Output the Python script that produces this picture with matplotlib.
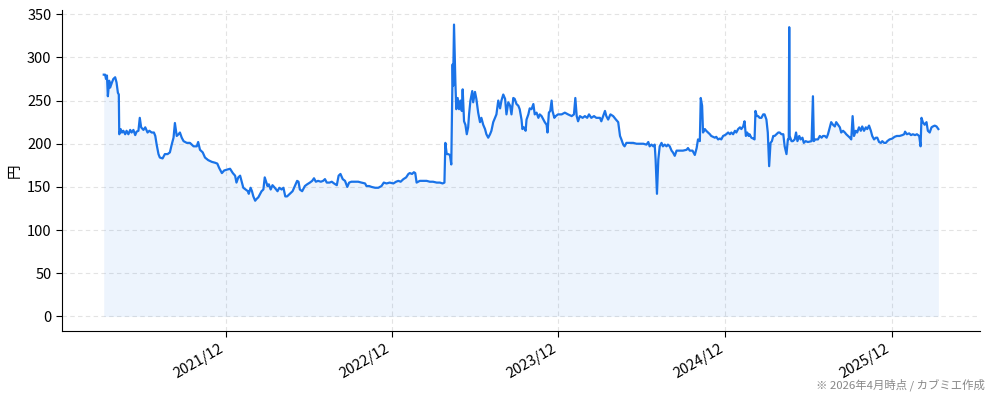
import pandas as pd
import matplotlib
matplotlib.use("Agg")
import matplotlib.pyplot as plt
import matplotlib.dates as mdates

plt.rcParams['font.family'] = ['Noto Sans CJK JP', 'DejaVu Sans']

# 日足終値（開始日からの経過日数, 円）
start = "2021-04-08"
days = [
    0, 3, 5, 7, 9, 12, 14, 18, 21, 25, 28, 31, 33, 34, 37, 40, 43, 47, 50, 54,
    58, 61, 65, 69, 72, 76, 79, 82, 87, 91, 96, 100, 105, 110, 113, 116, 120, 123, 129, 134,
    140, 145, 149, 153, 156, 160, 164, 167, 171, 175, 182, 189, 197, 204, 207, 211, 217, 222, 229, 237,
    244, 249, 253, 259, 264, 270, 277, 283, 288, 291, 295, 299, 302, 306, 311, 316, 318, 322, 325, 328,
    332, 335, 339, 343, 346, 350, 353, 356, 359, 362, 366, 370, 375, 381, 385, 390, 394, 398, 402, 408,
    414, 419, 424, 427, 430, 435, 441, 446, 452, 457, 461, 465, 470, 476, 481, 485, 489, 495, 500, 505,
    511, 515, 519, 524, 529, 534, 538, 543, 551, 558, 565, 573, 576, 582, 587, 595, 602, 609, 614, 620,
    627, 635, 641, 646, 651, 657, 663, 668, 671, 676, 680, 683, 686, 693, 701, 708, 715, 722, 730, 737,
    743, 747, 749, 752, 755, 759, 762, 765, 766, 768, 771, 773, 776, 779, 782, 785, 787, 790, 793, 796,
    799, 801, 804, 808, 810, 814, 817, 821, 825, 828, 832, 836, 839, 843, 847, 850, 854, 858, 861, 865,
    869, 872, 876, 880, 883, 887, 891, 894, 898, 901, 905, 909, 912, 916, 918, 921, 925, 927, 931, 934,
    938, 942, 945, 949, 953, 956, 960, 964, 967, 971, 973, 976, 979, 982, 984, 988, 991, 996, 1004, 1011,
    1018, 1026, 1031, 1034, 1037, 1040, 1044, 1050, 1055, 1060, 1064, 1069, 1075, 1080, 1088, 1091, 1095, 1099, 1102, 1106,
    1111, 1117, 1123, 1128, 1132, 1135, 1139, 1142, 1146, 1153, 1161, 1168, 1175, 1183, 1190, 1194, 1197, 1201, 1205, 1208,
    1210, 1213, 1216, 1219, 1223, 1226, 1230, 1234, 1237, 1241, 1245, 1248, 1252, 1256, 1263, 1270, 1278, 1281, 1285, 1291,
    1296, 1300, 1303, 1307, 1309, 1312, 1314, 1318, 1321, 1325, 1329, 1332, 1336, 1340, 1343, 1347, 1351, 1354, 1358, 1362,
    1365, 1369, 1373, 1376, 1380, 1384, 1387, 1391, 1395, 1398, 1402, 1405, 1408, 1411, 1414, 1416, 1420, 1424, 1427, 1429,
    1432, 1435, 1438, 1442, 1446, 1449, 1453, 1456, 1459, 1462, 1465, 1468, 1471, 1475, 1479, 1482, 1486, 1490, 1493, 1497,
    1500, 1502, 1503, 1504, 1508, 1511, 1515, 1518, 1521, 1525, 1528, 1532, 1535, 1539, 1544, 1552, 1555, 1557, 1560, 1566,
    1570, 1574, 1577, 1581, 1585, 1588, 1592, 1595, 1599, 1603, 1606, 1610, 1614, 1617, 1621, 1625, 1628, 1632, 1636, 1639,
    1642, 1645, 1649, 1652, 1656, 1660, 1663, 1667, 1671, 1674, 1678, 1682, 1685, 1689, 1693, 1696, 1700, 1704, 1707, 1711,
    1715, 1718, 1723, 1729, 1734, 1739, 1745, 1751, 1755, 1757, 1761, 1766, 1770, 1774, 1779, 1783, 1788, 1791, 1793, 1796,
    1800, 1804, 1807, 1811, 1815, 1818, 1822, 1826, 1830,
]
price = [
    280, 280, 275, 279, 255, 273, 265, 271, 275, 277, 271, 259, 257, 211, 217, 213, 215, 211, 215, 211,
    216, 213, 216, 210, 214, 215, 230, 219, 216, 219, 213, 215, 213, 213, 209, 199, 188, 184, 183, 188,
    188, 190, 199, 207, 224, 209, 211, 213, 207, 203, 201, 201, 197, 197, 202, 193, 190, 184, 181, 179,
    178, 177, 172, 166, 169, 170, 171, 166, 163, 155, 161, 163, 157, 149, 147, 145, 142, 149, 145, 139,
    134, 136, 138, 142, 145, 147, 161, 156, 151, 153, 147, 152, 149, 145, 149, 147, 149, 139, 139, 142,
    145, 151, 157, 156, 147, 145, 151, 153, 155, 157, 160, 156, 157, 156, 157, 159, 155, 155, 156, 154,
    152, 163, 165, 159, 157, 150, 155, 156, 156, 156, 155, 154, 151, 151, 150, 149, 149, 151, 155, 154,
    155, 154, 156, 157, 156, 159, 161, 165, 166, 165, 167, 166, 155, 157, 157, 157, 156, 156, 155, 155,
    154, 155, 201, 188, 188, 187, 176, 292, 267, 338, 271, 240, 253, 240, 250, 238, 263, 226, 222, 211,
    219, 234, 250, 261, 248, 260, 252, 236, 225, 230, 222, 217, 211, 207, 211, 215, 225, 230, 234, 250,
    241, 250, 257, 252, 234, 248, 244, 234, 253, 252, 246, 244, 240, 228, 217, 219, 215, 228, 234, 241,
    240, 246, 234, 236, 230, 234, 232, 228, 225, 222, 213, 236, 238, 250, 238, 230, 232, 234, 234, 236,
    234, 232, 234, 253, 232, 226, 232, 230, 232, 230, 234, 230, 232, 230, 230, 226, 232, 238, 232, 228,
    234, 232, 228, 225, 209, 205, 199, 197, 201, 201, 201, 200, 200, 200, 199, 202, 197, 199, 197, 199,
    182, 142, 182, 197, 201, 197, 199, 197, 199, 197, 192, 190, 186, 192, 192, 192, 193, 195, 192, 192,
    187, 195, 205, 203, 253, 244, 213, 217, 215, 213, 211, 209, 208, 207, 208, 205, 206, 205, 209, 210,
    211, 213, 211, 213, 211, 215, 213, 217, 219, 217, 220, 226, 209, 213, 209, 211, 207, 206, 205, 238,
    232, 232, 230, 230, 234, 234, 228, 213, 174, 201, 203, 209, 209, 211, 213, 213, 211, 211, 197, 188,
    205, 205, 335, 209, 203, 203, 205, 213, 203, 209, 205, 207, 201, 203, 202, 203, 255, 203, 205, 205,
    209, 207, 209, 209, 207, 211, 219, 225, 222, 220, 225, 222, 219, 213, 215, 213, 211, 209, 207, 205,
    232, 209, 215, 213, 219, 215, 220, 215, 219, 217, 221, 215, 209, 205, 207, 207, 202, 201, 203, 201,
    201, 203, 205, 206, 208, 209, 209, 210, 211, 214, 211, 212, 210, 211, 210, 211, 209, 197, 230, 225,
    222, 225, 215, 213, 219, 220, 221, 220, 217,
]

dates = pd.Timestamp(start) + pd.to_timedelta(days, unit="D")
blue = "#1a73e8"

fig = plt.figure(figsize=(9.94, 4.0), dpi=100)
ax = fig.add_axes([0.0624, 0.1725, 0.9236, 0.8025])

ax.plot(dates, price, color=blue, lw=1.6, zorder=3)
ax.fill_between(dates, price, 0, color=blue, alpha=0.08, lw=0, zorder=2)

ax.set_yticks(range(0, 351, 50))
ax.set_ylabel("円", fontsize=10.5)
ax.xaxis.set_major_locator(mdates.MonthLocator(bymonth=12, bymonthday=31))
ax.xaxis.set_major_formatter(mdates.DateFormatter("%Y/%m"))
for lbl in ax.get_xticklabels():
    lbl.set_rotation(30)
    lbl.set_ha("right")
ax.tick_params(labelsize=10.5, length=4)

ax.grid(True, ls=(0, (4, 3)), color="#e3e3e3", lw=0.8)
ax.set_axisbelow(True)
for s in ("top", "right"):
    ax.spines[s].set_visible(False)

fig.text(0.991, 0.038, "※ 2026年4月時点 / カブミエ作成", ha="right", va="center",
         fontsize=8.2, color="#888888")

fig.savefig("out.png", dpi=100)
